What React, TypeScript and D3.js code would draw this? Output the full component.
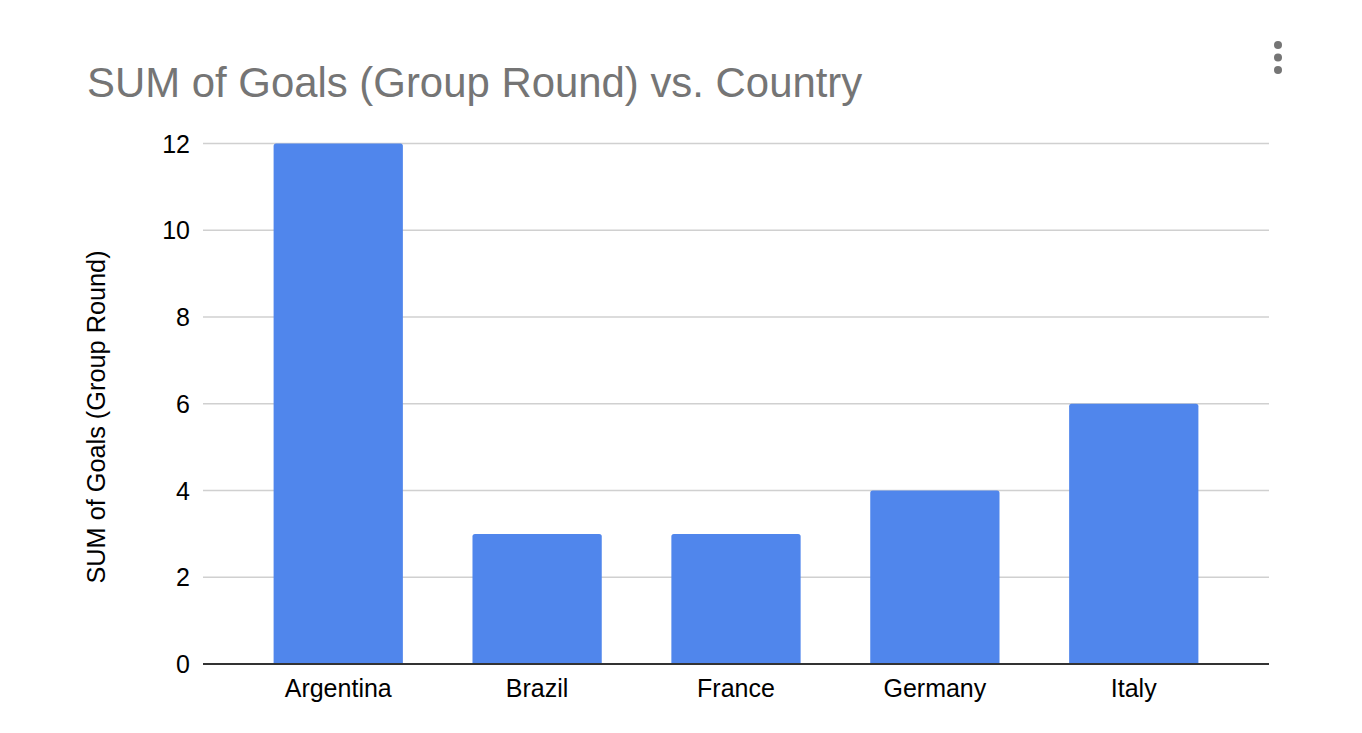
import React from "react";
import * as d3 from "d3";

const countries = ["Argentina", "Brazil", "France", "Germany", "Italy"];
const goals = [12, 3, 3, 4, 6];
const yTicks = [0, 2, 4, 6, 8, 10, 12];
const title = "SUM of Goals (Group Round) vs. Country";
const yTitle = "SUM of Goals (Group Round)";

const W = 1362;
const H = 733;
const FONT = "'Liberation Sans', Arial, Helvetica, sans-serif";

export default function App() {
  const x = d3.scaleBand<string>().domain(countries).range([203, 1269]).paddingInner(0.35).paddingOuter(0.355);
  const y = d3.scaleLinear().domain([0, 12]).range([664, 143.5]);
  const bw = x.bandwidth();
  const r = 2.5;

  const barPath = (c: string, v: number) => {
    const x0 = x(c)!;
    const x1 = x0 + bw;
    const yt = y(v);
    const yb = y(0);
    const p = d3.path();
    p.moveTo(x0, yb);
    p.lineTo(x0, yt + r);
    p.quadraticCurveTo(x0, yt, x0 + r, yt);
    p.lineTo(x1 - r, yt);
    p.quadraticCurveTo(x1, yt, x1, yt + r);
    p.lineTo(x1, yb);
    p.closePath();
    return p.toString();
  };

  return (
    <div style={{ position: "absolute", left: 0, top: 0 }}>
      <svg width={W} height={H} style={{ display: "block", background: "#fff" }}>
        <rect x={0} y={0} width={W} height={H} fill="#fff" />
        <text x={87} y={97} fontFamily={FONT} fontSize={41.9} fill="#757575">
          {title}
        </text>
        {[45, 57.5, 70].map((cy) => (
          <circle key={cy} cx={1278} cy={cy} r={4} fill="#757575" />
        ))}
        {yTicks.map((t) => (
          <g key={t}>
            {t !== 0 && (
              <line x1={203} x2={1269} y1={y(t)} y2={y(t)} stroke="#d0d0d0" strokeWidth={1.5} />
            )}
            <text
              x={190}
              y={y(t)}
              dy="0.36em"
              textAnchor="end"
              fontFamily={FONT}
              fontSize={25}
              fill="#000"
            >
              {t}
            </text>
          </g>
        ))}
        {countries.map((c, i) => (
          <path key={c} d={barPath(c, goals[i])} fill="#5086ec" />
        ))}
        <line x1={203} x2={1269} y1={y(0)} y2={y(0)} stroke="#333" strokeWidth={2} />
        {countries.map((c) => (
          <text
            key={c}
            x={x(c)! + bw / 2}
            y={697}
            textAnchor="middle"
            fontFamily={FONT}
            fontSize={25}
            fill="#000"
          >
            {c}
          </text>
        ))}
        <text
          transform={`translate(104.5,417) rotate(-90)`}
          textAnchor="middle"
          fontFamily={FONT}
          fontSize={25.3}
          fill="#000"
        >
          {yTitle}
        </text>
      </svg>
    </div>
  );
}
